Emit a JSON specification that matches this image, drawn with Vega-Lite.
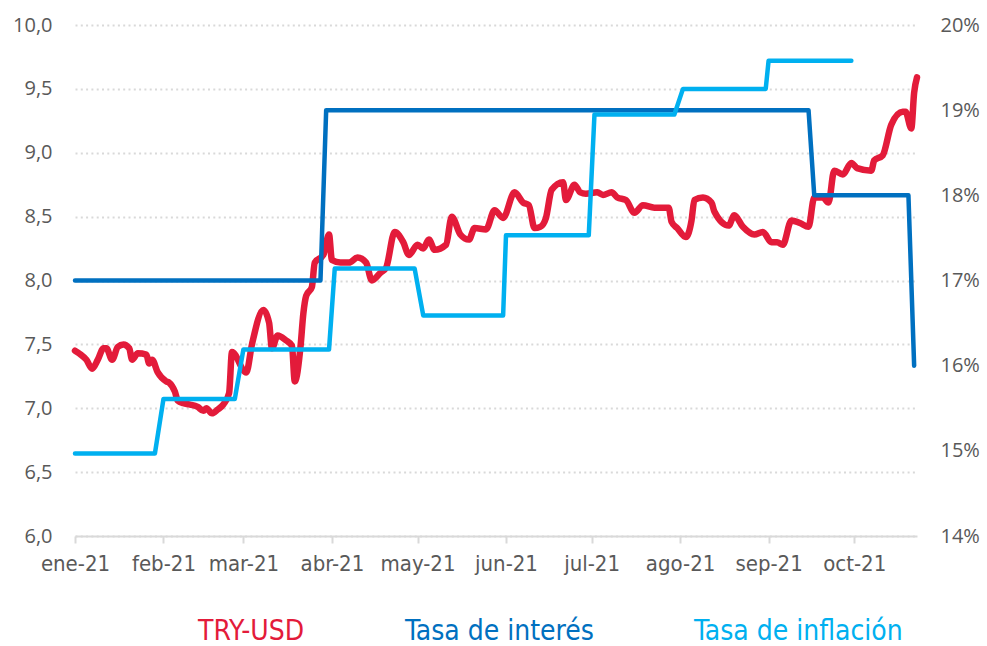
{
  "$schema": "https://vega.github.io/schema/vega-lite/v6.json",
  "width": 842,
  "height": 511,
  "autosize": "none",
  "padding": {"left": 75, "top": 25, "right": 70, "bottom": 110},
  "background": "white",
  "config": {
    "view": {"stroke": null},
    "axis": {"labelColor": "#595959", "title": null}
  },
  "data": {
    "values": [
      {"fecha": "2021-01-01", "serie": "TRY-USD", "valor": 7.45},
      {"fecha": "2021-01-03", "serie": "TRY-USD", "valor": 7.42},
      {"fecha": "2021-01-05", "serie": "TRY-USD", "valor": 7.38},
      {"fecha": "2021-01-07", "serie": "TRY-USD", "valor": 7.31},
      {"fecha": "2021-01-09", "serie": "TRY-USD", "valor": 7.38},
      {"fecha": "2021-01-11", "serie": "TRY-USD", "valor": 7.47},
      {"fecha": "2021-01-12", "serie": "TRY-USD", "valor": 7.47},
      {"fecha": "2021-01-14", "serie": "TRY-USD", "valor": 7.38},
      {"fecha": "2021-01-16", "serie": "TRY-USD", "valor": 7.48},
      {"fecha": "2021-01-18", "serie": "TRY-USD", "valor": 7.50},
      {"fecha": "2021-01-20", "serie": "TRY-USD", "valor": 7.47},
      {"fecha": "2021-01-21", "serie": "TRY-USD", "valor": 7.38},
      {"fecha": "2021-01-23", "serie": "TRY-USD", "valor": 7.43},
      {"fecha": "2021-01-26", "serie": "TRY-USD", "valor": 7.42},
      {"fecha": "2021-01-27", "serie": "TRY-USD", "valor": 7.35},
      {"fecha": "2021-01-28", "serie": "TRY-USD", "valor": 7.38},
      {"fecha": "2021-01-30", "serie": "TRY-USD", "valor": 7.28},
      {"fecha": "2021-02-02", "serie": "TRY-USD", "valor": 7.21},
      {"fecha": "2021-02-03", "serie": "TRY-USD", "valor": 7.20},
      {"fecha": "2021-02-05", "serie": "TRY-USD", "valor": 7.13},
      {"fecha": "2021-02-06", "serie": "TRY-USD", "valor": 7.06},
      {"fecha": "2021-02-08", "serie": "TRY-USD", "valor": 7.04},
      {"fecha": "2021-02-10", "serie": "TRY-USD", "valor": 7.03},
      {"fecha": "2021-02-13", "serie": "TRY-USD", "valor": 7.01},
      {"fecha": "2021-02-15", "serie": "TRY-USD", "valor": 6.98},
      {"fecha": "2021-02-16", "serie": "TRY-USD", "valor": 7.00},
      {"fecha": "2021-02-18", "serie": "TRY-USD", "valor": 6.96},
      {"fecha": "2021-02-20", "serie": "TRY-USD", "valor": 6.99},
      {"fecha": "2021-02-22", "serie": "TRY-USD", "valor": 7.03},
      {"fecha": "2021-02-24", "serie": "TRY-USD", "valor": 7.12},
      {"fecha": "2021-02-25", "serie": "TRY-USD", "valor": 7.44},
      {"fecha": "2021-03-02", "serie": "TRY-USD", "valor": 7.28},
      {"fecha": "2021-03-04", "serie": "TRY-USD", "valor": 7.50},
      {"fecha": "2021-03-08", "serie": "TRY-USD", "valor": 7.77},
      {"fecha": "2021-03-10", "serie": "TRY-USD", "valor": 7.67},
      {"fecha": "2021-03-11", "serie": "TRY-USD", "valor": 7.47},
      {"fecha": "2021-03-13", "serie": "TRY-USD", "valor": 7.57},
      {"fecha": "2021-03-16", "serie": "TRY-USD", "valor": 7.53},
      {"fecha": "2021-03-18", "serie": "TRY-USD", "valor": 7.49},
      {"fecha": "2021-03-19", "serie": "TRY-USD", "valor": 7.21},
      {"fecha": "2021-03-21", "serie": "TRY-USD", "valor": 7.48},
      {"fecha": "2021-03-22", "serie": "TRY-USD", "valor": 7.74},
      {"fecha": "2021-03-23", "serie": "TRY-USD", "valor": 7.88},
      {"fecha": "2021-03-25", "serie": "TRY-USD", "valor": 7.95},
      {"fecha": "2021-03-26", "serie": "TRY-USD", "valor": 8.14},
      {"fecha": "2021-03-29", "serie": "TRY-USD", "valor": 8.20},
      {"fecha": "2021-03-31", "serie": "TRY-USD", "valor": 8.36},
      {"fecha": "2021-04-01", "serie": "TRY-USD", "valor": 8.16},
      {"fecha": "2021-04-04", "serie": "TRY-USD", "valor": 8.14},
      {"fecha": "2021-04-07", "serie": "TRY-USD", "valor": 8.14},
      {"fecha": "2021-04-10", "serie": "TRY-USD", "valor": 8.18},
      {"fecha": "2021-04-13", "serie": "TRY-USD", "valor": 8.14},
      {"fecha": "2021-04-15", "serie": "TRY-USD", "valor": 8.00},
      {"fecha": "2021-04-18", "serie": "TRY-USD", "valor": 8.06},
      {"fecha": "2021-04-20", "serie": "TRY-USD", "valor": 8.10},
      {"fecha": "2021-04-23", "serie": "TRY-USD", "valor": 8.38},
      {"fecha": "2021-04-26", "serie": "TRY-USD", "valor": 8.30},
      {"fecha": "2021-04-28", "serie": "TRY-USD", "valor": 8.20},
      {"fecha": "2021-05-01", "serie": "TRY-USD", "valor": 8.28},
      {"fecha": "2021-05-03", "serie": "TRY-USD", "valor": 8.25},
      {"fecha": "2021-05-05", "serie": "TRY-USD", "valor": 8.32},
      {"fecha": "2021-05-07", "serie": "TRY-USD", "valor": 8.24},
      {"fecha": "2021-05-11", "serie": "TRY-USD", "valor": 8.28},
      {"fecha": "2021-05-13", "serie": "TRY-USD", "valor": 8.50},
      {"fecha": "2021-05-16", "serie": "TRY-USD", "valor": 8.36},
      {"fecha": "2021-05-19", "serie": "TRY-USD", "valor": 8.32},
      {"fecha": "2021-05-21", "serie": "TRY-USD", "valor": 8.41},
      {"fecha": "2021-05-25", "serie": "TRY-USD", "valor": 8.40},
      {"fecha": "2021-05-28", "serie": "TRY-USD", "valor": 8.55},
      {"fecha": "2021-05-31", "serie": "TRY-USD", "valor": 8.49},
      {"fecha": "2021-06-04", "serie": "TRY-USD", "valor": 8.69},
      {"fecha": "2021-06-07", "serie": "TRY-USD", "valor": 8.61},
      {"fecha": "2021-06-09", "serie": "TRY-USD", "valor": 8.59},
      {"fecha": "2021-06-11", "serie": "TRY-USD", "valor": 8.41},
      {"fecha": "2021-06-13", "serie": "TRY-USD", "valor": 8.42},
      {"fecha": "2021-06-15", "serie": "TRY-USD", "valor": 8.49},
      {"fecha": "2021-06-17", "serie": "TRY-USD", "valor": 8.71},
      {"fecha": "2021-06-21", "serie": "TRY-USD", "valor": 8.77},
      {"fecha": "2021-06-22", "serie": "TRY-USD", "valor": 8.63},
      {"fecha": "2021-06-25", "serie": "TRY-USD", "valor": 8.75},
      {"fecha": "2021-06-27", "serie": "TRY-USD", "valor": 8.69},
      {"fecha": "2021-06-29", "serie": "TRY-USD", "valor": 8.68},
      {"fecha": "2021-07-03", "serie": "TRY-USD", "valor": 8.69},
      {"fecha": "2021-07-05", "serie": "TRY-USD", "valor": 8.67},
      {"fecha": "2021-07-08", "serie": "TRY-USD", "valor": 8.69},
      {"fecha": "2021-07-10", "serie": "TRY-USD", "valor": 8.65},
      {"fecha": "2021-07-13", "serie": "TRY-USD", "valor": 8.63},
      {"fecha": "2021-07-16", "serie": "TRY-USD", "valor": 8.53},
      {"fecha": "2021-07-19", "serie": "TRY-USD", "valor": 8.59},
      {"fecha": "2021-07-23", "serie": "TRY-USD", "valor": 8.57},
      {"fecha": "2021-07-28", "serie": "TRY-USD", "valor": 8.57},
      {"fecha": "2021-07-29", "serie": "TRY-USD", "valor": 8.46},
      {"fecha": "2021-07-31", "serie": "TRY-USD", "valor": 8.41},
      {"fecha": "2021-08-03", "serie": "TRY-USD", "valor": 8.34},
      {"fecha": "2021-08-05", "serie": "TRY-USD", "valor": 8.47},
      {"fecha": "2021-08-06", "serie": "TRY-USD", "valor": 8.63},
      {"fecha": "2021-08-09", "serie": "TRY-USD", "valor": 8.65},
      {"fecha": "2021-08-12", "serie": "TRY-USD", "valor": 8.61},
      {"fecha": "2021-08-13", "serie": "TRY-USD", "valor": 8.54},
      {"fecha": "2021-08-18", "serie": "TRY-USD", "valor": 8.43},
      {"fecha": "2021-08-20", "serie": "TRY-USD", "valor": 8.51},
      {"fecha": "2021-08-23", "serie": "TRY-USD", "valor": 8.42},
      {"fecha": "2021-08-27", "serie": "TRY-USD", "valor": 8.36},
      {"fecha": "2021-08-30", "serie": "TRY-USD", "valor": 8.38},
      {"fecha": "2021-09-02", "serie": "TRY-USD", "valor": 8.30},
      {"fecha": "2021-09-04", "serie": "TRY-USD", "valor": 8.30},
      {"fecha": "2021-09-06", "serie": "TRY-USD", "valor": 8.28},
      {"fecha": "2021-09-09", "serie": "TRY-USD", "valor": 8.47},
      {"fecha": "2021-09-12", "serie": "TRY-USD", "valor": 8.45},
      {"fecha": "2021-09-15", "serie": "TRY-USD", "valor": 8.42},
      {"fecha": "2021-09-17", "serie": "TRY-USD", "valor": 8.65},
      {"fecha": "2021-09-20", "serie": "TRY-USD", "valor": 8.65},
      {"fecha": "2021-09-22", "serie": "TRY-USD", "valor": 8.61},
      {"fecha": "2021-09-24", "serie": "TRY-USD", "valor": 8.86},
      {"fecha": "2021-09-27", "serie": "TRY-USD", "valor": 8.83},
      {"fecha": "2021-09-30", "serie": "TRY-USD", "valor": 8.92},
      {"fecha": "2021-10-02", "serie": "TRY-USD", "valor": 8.88},
      {"fecha": "2021-10-07", "serie": "TRY-USD", "valor": 8.86},
      {"fecha": "2021-10-08", "serie": "TRY-USD", "valor": 8.94},
      {"fecha": "2021-10-11", "serie": "TRY-USD", "valor": 8.98},
      {"fecha": "2021-10-14", "serie": "TRY-USD", "valor": 9.22},
      {"fecha": "2021-10-18", "serie": "TRY-USD", "valor": 9.32},
      {"fecha": "2021-10-19", "serie": "TRY-USD", "valor": 9.32},
      {"fecha": "2021-10-21", "serie": "TRY-USD", "valor": 9.19},
      {"fecha": "2021-10-22", "serie": "TRY-USD", "valor": 9.47},
      {"fecha": "2021-10-23", "serie": "TRY-USD", "valor": 9.59},
      {"fecha": "2021-01-01", "serie": "Tasa de interés", "valor": 17},
      {"fecha": "2021-03-28", "serie": "Tasa de interés", "valor": 17},
      {"fecha": "2021-03-30", "serie": "Tasa de interés", "valor": 19},
      {"fecha": "2021-09-15", "serie": "Tasa de interés", "valor": 19},
      {"fecha": "2021-09-17", "serie": "Tasa de interés", "valor": 18},
      {"fecha": "2021-10-20", "serie": "Tasa de interés", "valor": 18},
      {"fecha": "2021-10-22", "serie": "Tasa de interés", "valor": 16},
      {"fecha": "2021-01-01", "serie": "Tasa de inflación", "valor": 14.97},
      {"fecha": "2021-01-29", "serie": "Tasa de inflación", "valor": 14.97},
      {"fecha": "2021-02-01", "serie": "Tasa de inflación", "valor": 15.61},
      {"fecha": "2021-02-26", "serie": "Tasa de inflación", "valor": 15.61},
      {"fecha": "2021-03-01", "serie": "Tasa de inflación", "valor": 16.19},
      {"fecha": "2021-03-31", "serie": "Tasa de inflación", "valor": 16.19},
      {"fecha": "2021-04-02", "serie": "Tasa de inflación", "valor": 17.14},
      {"fecha": "2021-04-30", "serie": "Tasa de inflación", "valor": 17.14},
      {"fecha": "2021-05-03", "serie": "Tasa de inflación", "valor": 16.59},
      {"fecha": "2021-05-31", "serie": "Tasa de inflación", "valor": 16.59},
      {"fecha": "2021-06-01", "serie": "Tasa de inflación", "valor": 17.53},
      {"fecha": "2021-06-30", "serie": "Tasa de inflación", "valor": 17.53},
      {"fecha": "2021-07-02", "serie": "Tasa de inflación", "valor": 18.95},
      {"fecha": "2021-07-30", "serie": "Tasa de inflación", "valor": 18.95},
      {"fecha": "2021-08-02", "serie": "Tasa de inflación", "valor": 19.25},
      {"fecha": "2021-08-31", "serie": "Tasa de inflación", "valor": 19.25},
      {"fecha": "2021-09-01", "serie": "Tasa de inflación", "valor": 19.58},
      {"fecha": "2021-09-30", "serie": "Tasa de inflación", "valor": 19.58}
    ]
  },
  "encoding": {
    "x": {
      "field": "fecha",
      "type": "temporal",
      "scale": {
        "type": "utc",
        "domain": [
          {"year": 2021, "month": 1, "date": 1, "utc": true},
          {"year": 2021, "month": 10, "date": 23, "utc": true}
        ]
      },
      "axis": {
        "values": [
          {"year": 2021, "month": 1, "date": 1, "utc": true},
          {"year": 2021, "month": 2, "date": 1, "utc": true},
          {"year": 2021, "month": 3, "date": 1, "utc": true},
          {"year": 2021, "month": 4, "date": 1, "utc": true},
          {"year": 2021, "month": 5, "date": 1, "utc": true},
          {"year": 2021, "month": 6, "date": 1, "utc": true},
          {"year": 2021, "month": 7, "date": 1, "utc": true},
          {"year": 2021, "month": 8, "date": 1, "utc": true},
          {"year": 2021, "month": 9, "date": 1, "utc": true},
          {"year": 2021, "month": 10, "date": 1, "utc": true}
        ],
        "labelExpr": "['ene','feb','mar','abr','may','jun','jul','ago','sep','oct','nov','dic'][utcmonth(datum.value)] + '-21'",
        "grid": false,
        "domainColor": "#D9D9D9",
        "domainWidth": 2,
        "tickColor": "#D9D9D9",
        "tickWidth": 2,
        "tickSize": 7,
        "labelPadding": 10,
        "labelFont": "DejaVu Sans Condensed",
        "labelFontSize": 22,
        "labelFlush": false,
        "labelOverlap": false
      }
    },
    "color": {
      "field": "serie",
      "type": "nominal",
      "scale": {
        "domain": ["TRY-USD", "Tasa de interés", "Tasa de inflación"],
        "range": ["#E31B3A", "#0070C0", "#00B0F0"]
      },
      "legend": {
        "title": null,
        "orient": "none",
        "legendX": 95,
        "legendY": 593,
        "direction": "horizontal",
        "symbolSize": 0,
        "symbolOpacity": 0,
        "symbolStrokeWidth": 0,
        "labelOffset": 0,
        "columnPadding": 72,
        "labelFont": "DejaVu Sans Condensed",
        "labelFontSize": 28,
        "labelLimit": 400,
        "encode": {
          "labels": {"update": {"fill": {"scale": "color", "field": "value"}}}
        }
      }
    }
  },
  "layer": [
    {
      "transform": [{"filter": "datum.serie === 'TRY-USD'"}],
      "mark": {"type": "line", "strokeWidth": 6.5, "interpolate": "monotone", "strokeCap": "round", "strokeJoin": "round"},
      "encoding": {
        "y": {
          "field": "valor",
          "type": "quantitative",
          "scale": {"domain": [6, 10], "nice": false, "zero": false},
          "axis": {
            "values": [6, 6.5, 7, 7.5, 8, 8.5, 9, 9.5, 10],
            "labelExpr": "replace(format(datum.value, '.1f'), '.', ',')",
            "domain": false,
            "ticks": false,
            "grid": true,
            "gridColor": "#D9D9D9",
            "gridDash": [2, 3.3],
            "gridWidth": 2,
            "labelPadding": 23,
            "labelFont": "Open Sans",
            "labelFontSize": 20
          }
        }
      }
    },
    {
      "transform": [{"filter": "datum.serie !== 'TRY-USD'"}],
      "mark": {"type": "line", "strokeWidth": 4.5, "strokeCap": "round", "strokeJoin": "round"},
      "encoding": {
        "y": {
          "field": "valor",
          "type": "quantitative",
          "scale": {"domain": [14, 20], "nice": false, "zero": false},
          "axis": {
            "orient": "right",
            "values": [14, 15, 16, 17, 18, 19, 20],
            "labelExpr": "format(datum.value, 'd') + '%'",
            "domain": false,
            "ticks": false,
            "grid": false,
            "labelPadding": 23,
            "labelFont": "Open Sans",
            "labelFontSize": 20
          }
        }
      }
    }
  ],
  "resolve": {"scale": {"y": "independent"}, "axis": {"y": "independent"}}
}
